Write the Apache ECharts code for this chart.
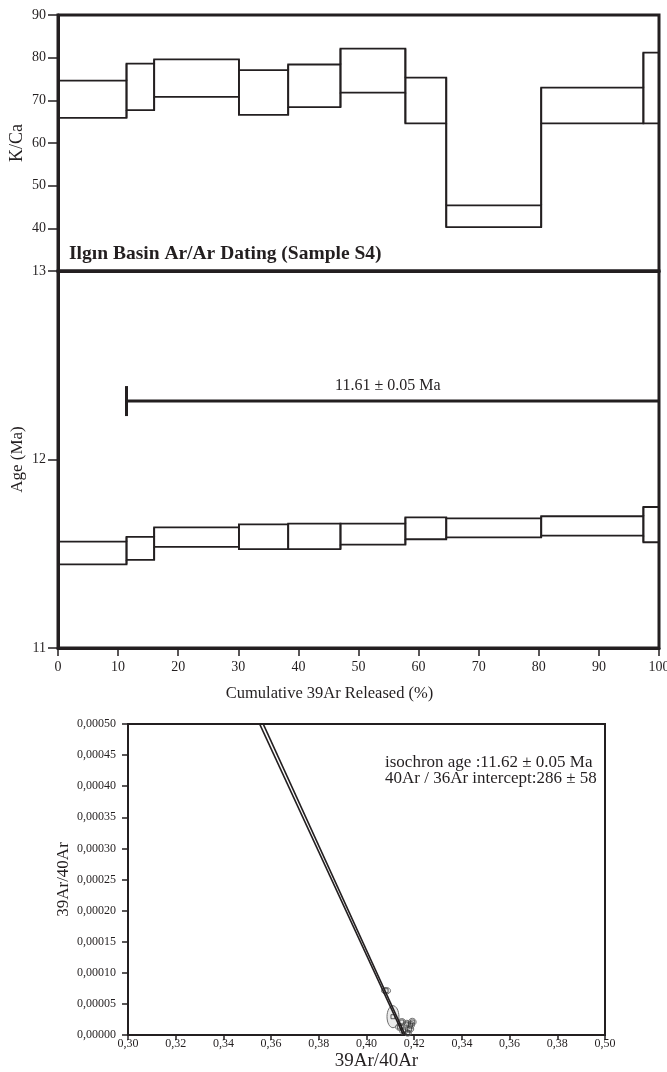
<!DOCTYPE html>
<html>
<head>
<meta charset="utf-8">
<script src="https://cdn.jsdelivr.net/npm/echarts@6/dist/echarts.min.js"></script>
<style>
  html, body { margin: 0; padding: 0; background: #fff; }
  #chart { width: 667px; height: 1072px; }
</style>
</head>
<body>
<div id="chart"></div>
<script>
// step edges (cumulative 39Ar released, %)
const stepEdges = [0, 11.4, 16.0, 30.1, 38.3, 47.0, 57.8, 64.6, 80.4, 97.4, 100];
// K/Ca boxes, low/high per step
const kcaLow = [65.9, 67.7, 70.8, 66.6, 68.4, 71.8, 64.6, 40.3, 64.6, 64.6];
const kcaHigh = [74.6, 78.6, 79.6, 77.1, 78.4, 82.1, 75.3, 45.4, 73.0, 81.2];
// age spectrum boxes (Ma)
const ageLow = [11.444, 11.467, 11.536, 11.525, 11.525, 11.548, 11.577, 11.587, 11.596, 11.561];
const ageHigh = [11.564, 11.590, 11.640, 11.656, 11.660, 11.660, 11.693, 11.688, 11.699, 11.748];
// plateau bar: from, to, level
const plateau = [11.4, 100, 12.31];
const plateauText = '11.61 ± 0.05 Ma';

// isochron
const isoLineA = [[0.3552, 0.0005], [0.4155, 0]];
const isoLineB = [[0.3567, 0.0005], [0.4162, 0]];
// points: x, y, half error x, half error y
const isoX = [0.4082, 0.4111, 0.4139, 0.4156, 0.4169, 0.4181, 0.4192, 0.4173, 0.4148, 0.4185];
const isoY = [0.0000712, 0.0000294, 0.0000129, 0.0000064, 0.0000177, 0.0000096, 0.0000209, 0.0000032, 0.0000209, 0.0000161];
const isoErrX = [0.0019, 0.0025, 0.0017, 0.0017, 0.0016, 0.0017, 0.0016, 0.0015, 0.0017, 0.0016];
const isoErrY = [0.0000053, 0.0000177, 0.0000055, 0.0000055, 0.000006, 0.0000055, 0.000006, 0.000005, 0.0000055, 0.000006];
const isoXLabels = ['0,30', '0,32', '0,34', '0,36', '0,38', '0,40', '0,42', '0,34', '0,36', '0,38', '0,50'];
const isoNote = ['isochron age :11.62 ± 0.05 Ma', '40Ar / 36Ar intercept:286 ± 58'];

const ink = '#231f20';
const serif = 'Liberation Serif';

const chart = echarts.init(document.getElementById('chart'));

function boxes(low, high) {
  return low.map((lo, i) => [stepEdges[i], stepEdges[i + 1], lo, high[i]]);
}

// box for one step + vertical joins to the previous step (spectrum outline)
function boxRenderer(low, high) {
  return function (params, api) {
    const i = params.dataIndex;
    const x0 = api.value(0), x1 = api.value(1);
    const p0 = api.coord([x0, api.value(3)]);
    const p1 = api.coord([x1, api.value(2)]);
    const s = { fill: 'none', stroke: ink, lineWidth: 1.8 };
    const children = [{
      type: 'rect',
      shape: { x: p0[0], y: p0[1], width: p1[0] - p0[0], height: p1[1] - p0[1] },
      style: s
    }];
    if (i > 0) {
      const a = api.coord([x0, high[i - 1]]);
      const b = api.coord([x0, low[i - 1]]);
      children.push({ type: 'line', shape: { x1: a[0], y1: a[1], x2: p0[0], y2: p0[1] }, style: s });
      children.push({ type: 'line', shape: { x1: b[0], y1: b[1], x2: p0[0], y2: p1[1] }, style: s });
    }
    return { type: 'group', children: children };
  };
}

function axisText(size) {
  return { fontFamily: serif, fontSize: size, color: ink };
}

const option = {
  animation: false,
  title: {
    text: 'Ilgın Basin Ar/Ar Dating (Sample S4)',
    left: 69, top: 244, padding: 0,
    textStyle: { fontFamily: serif, fontSize: 19.5, fontWeight: 'bold', color: ink }
  },
  grid: [
    { left: 58, right: 8, top: 15, height: 256, show: true, borderColor: ink, borderWidth: 3, outerBoundsMode: 'none' },
    { left: 58, right: 8, top: 271, height: 377, show: true, borderColor: ink, borderWidth: 3, outerBoundsMode: 'none' },
    { left: 128, right: 62, top: 724, height: 311, show: true, borderColor: ink, borderWidth: 2, outerBoundsMode: 'none' }
  ],
  xAxis: [
    {
      gridIndex: 0, type: 'value', min: 0, max: 100, interval: 10,
      axisLine: { lineStyle: { color: ink, width: 3 } },
      axisTick: { show: false }, axisLabel: { show: false }, splitLine: { show: false }
    },
    {
      gridIndex: 1, type: 'value', min: 0, max: 100, interval: 10,
      name: 'Cumulative 39Ar Released (%)', nameLocation: 'middle', nameGap: 37, nameMoveOverlap: false,
      nameTextStyle: Object.assign(axisText(16.5), { padding: [0, 58, 0, 0] }),
      axisLine: { lineStyle: { color: ink, width: 3 } },
      axisTick: { length: 8, lineStyle: { color: ink, width: 1.5 } },
      axisLabel: Object.assign(axisText(14), { margin: 12 }),
      splitLine: { show: false }
    },
    {
      gridIndex: 2, type: 'value', min: 0.30, max: 0.50, interval: 0.02,
      name: '39Ar/40Ar', nameLocation: 'middle', nameGap: 17, nameMoveOverlap: false,
      nameTextStyle: Object.assign(axisText(19), { padding: [0, 0, 0, 20] }),
      axisLine: { lineStyle: { color: ink, width: 2 } },
      axisTick: { length: 5, lineStyle: { color: ink, width: 1.5 } },
      axisLabel: Object.assign(axisText(12), {
        margin: 3,
        formatter: v => isoXLabels[Math.round((v - 0.30) / 0.02)]
      }),
      splitLine: { show: false }
    }
  ],
  yAxis: [
    {
      gridIndex: 0, type: 'value', min: 30, max: 90, interval: 10,
      name: 'K/Ca', nameLocation: 'middle', nameGap: 32, nameMoveOverlap: false,
      nameTextStyle: axisText(18),
      axisLine: { lineStyle: { color: ink, width: 3 } },
      axisTick: { length: 10, lineStyle: { color: ink, width: 1.5 } },
      axisLabel: Object.assign(axisText(14), {
        margin: 12,
        formatter: v => (v === 30 ? '' : String(v))
      }),
      splitLine: { show: false }
    },
    {
      gridIndex: 1, type: 'value', min: 11, max: 13, interval: 1,
      name: 'Age (Ma)', nameLocation: 'middle', nameGap: 32, nameMoveOverlap: false,
      nameTextStyle: axisText(17),
      axisLine: { lineStyle: { color: ink, width: 3 } },
      axisTick: { length: 10, lineStyle: { color: ink, width: 1.5 } },
      axisLabel: Object.assign(axisText(14), { margin: 12 }),
      splitLine: { show: false }
    },
    {
      gridIndex: 2, type: 'value', min: 0, max: 0.0005, interval: 0.00005,
      name: '39Ar/40Ar', nameLocation: 'middle', nameGap: 56, nameMoveOverlap: false,
      nameTextStyle: axisText(17),
      axisLine: { lineStyle: { color: ink, width: 2 } },
      axisTick: { length: 6, lineStyle: { color: ink, width: 1.5 } },
      axisLabel: Object.assign(axisText(12), {
        margin: 12,
        formatter: v => v.toFixed(5).replace('.', ',')
      }),
      splitLine: { show: false }
    }
  ],
  graphic: [
    {
      type: 'text', left: 335, top: 378,
      style: { text: plateauText, font: '16px "Liberation Serif"', fill: ink }
    },
    {
      type: 'text', left: 385, top: 754,
      style: { text: isoNote.join('\n'), font: '17px "Liberation Serif"', lineHeight: 16, fill: ink }
    }
  ],
  series: [
    // K/Ca spectrum
    {
      type: 'custom', xAxisIndex: 0, yAxisIndex: 0,
      data: boxes(kcaLow, kcaHigh),
      encode: { x: [0, 1], y: [2, 3] },
      renderItem: boxRenderer(kcaLow, kcaHigh)
    },
    // age spectrum
    {
      type: 'custom', xAxisIndex: 1, yAxisIndex: 1,
      data: boxes(ageLow, ageHigh),
      encode: { x: [0, 1], y: [2, 3] },
      renderItem: boxRenderer(ageLow, ageHigh)
    },
    // plateau bar with end cap
    {
      type: 'custom', xAxisIndex: 1, yAxisIndex: 1,
      data: [plateau],
      encode: { x: [0, 1], y: 2 },
      renderItem: function (params, api) {
        const a = api.coord([api.value(0), api.value(2)]);
        const b = api.coord([api.value(1), api.value(2)]);
        const s = { stroke: ink, lineWidth: 3 };
        return {
          type: 'group',
          children: [
            { type: 'line', shape: { x1: a[0], y1: a[1], x2: b[0], y2: b[1] }, style: s },
            { type: 'line', shape: { x1: a[0], y1: a[1] - 15, x2: a[0], y2: a[1] + 15 }, style: s }
          ]
        };
      }
    },
    // isochron fit lines
    {
      type: 'line', xAxisIndex: 2, yAxisIndex: 2, data: isoLineA,
      symbol: 'none', lineStyle: { color: ink, width: 1.7 }, clip: true
    },
    {
      type: 'line', xAxisIndex: 2, yAxisIndex: 2, data: isoLineB,
      symbol: 'none', lineStyle: { color: ink, width: 1.7 }, clip: true
    },
    // error ellipses
    {
      type: 'custom', xAxisIndex: 2, yAxisIndex: 2,
      data: isoX.map((x, i) => [x, isoY[i], isoErrX[i], isoErrY[i]]),
      renderItem: function (params, api) {
        const c = api.coord([api.value(0), api.value(1)]);
        const r = api.size([api.value(2), api.value(3)]);
        return {
          type: 'ellipse',
          shape: { cx: c[0], cy: c[1], rx: r[0], ry: r[1] },
          style: { fill: 'rgba(120,120,120,0.15)', stroke: '#6d6d6d', lineWidth: 1 }
        };
      }
    },
    // points
    {
      type: 'scatter', xAxisIndex: 2, yAxisIndex: 2,
      data: isoX.map((x, i) => [x, isoY[i]]),
      symbol: 'rect', symbolSize: 4,
      itemStyle: { color: 'rgba(0,0,0,0)', borderColor: '#333', borderWidth: 1 }
    }
  ]
};

chart.setOption(option);
</script>
</body>
</html>
